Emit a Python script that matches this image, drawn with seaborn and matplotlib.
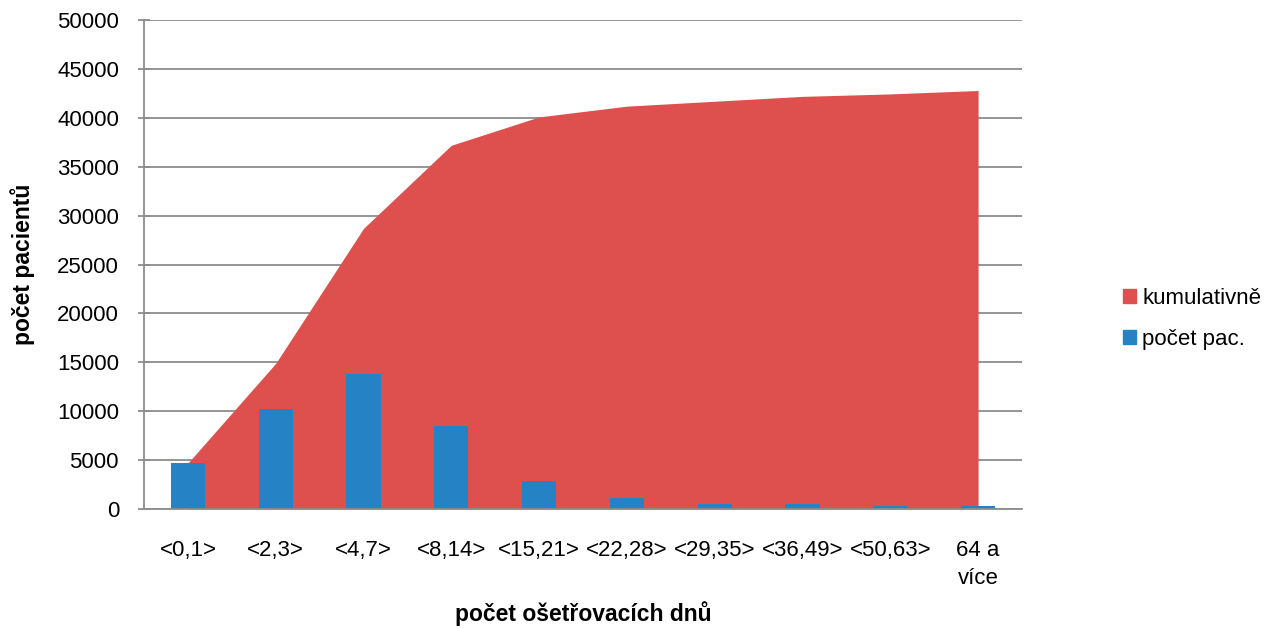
import numpy as np
import pandas as pd
import seaborn as sns
import matplotlib.pyplot as plt
from matplotlib.patches import Patch

# Data
categories = ["<0,1>", "<2,3>", "<4,7>", "<8,14>", "<15,21>", "<22,28>",
              "<29,35>", "<36,49>", "<50,63>", "64 a\nvíce"]
pocet_pac = [4700, 10200, 13800, 8500, 2900, 1150, 500, 500, 300, 300]
kumulativne = [4700, 14900, 28700, 37200, 40100, 41200, 41700, 42200, 42450, 42800]

red = "#DD504E"
blue = "#2582C4"
grid_grey = "#8C8C8C"

sns.set_theme(style="white")
plt.rcParams["font.family"] = ["Liberation Sans", "DejaVu Sans"]
plt.rcParams["text.color"] = "black"
plt.rcParams["axes.labelcolor"] = "black"

df = pd.DataFrame({"kategorie": categories, "pocet": pocet_pac})

fig = plt.figure(figsize=(12.77, 6.28), dpi=100)
ax = fig.add_axes([0.1128, 0.1895, 0.6875, 0.7785])

x = np.arange(len(categories))
ax.fill_between(x, 0, kumulativne, color=red, linewidth=0, zorder=2)
sns.barplot(data=df, x="kategorie", y="pocet", color=blue, width=0.39,
            saturation=1, linewidth=0, edgecolor="none", ax=ax, zorder=3)

ax.set_xlim(-0.5, len(categories) - 0.5)
ax.set_ylim(0, 50000)
ax.set_yticks(np.arange(0, 50001, 5000))
ax.yaxis.grid(True, color=grid_grey, linewidth=1.3, zorder=0)
ax.set_axisbelow(True)

for side in ["top", "right"]:
    ax.spines[side].set_visible(False)
for side in ["left", "bottom"]:
    ax.spines[side].set_color(grid_grey)
    ax.spines[side].set_linewidth(1.3)
    ax.spines[side].set_zorder(4)

ax.set_xticks(np.arange(-0.5, len(categories)), minor=True)
ax.tick_params(axis="x", which="major", length=0, labelsize=16, pad=22,
               colors="black")
for lbl in ax.get_xticklabels():
    lbl.set_linespacing(1.45)
ax.tick_params(axis="x", which="minor", direction="inout", length=12,
               width=1.3, color=grid_grey)
ax.tick_params(axis="y", which="major", direction="inout", length=8,
               width=1.3, color=grid_grey, labelsize=16, labelcolor="black",
               left=True, pad=14)

ax.set_xlabel("počet ošetřovacích dnů", fontsize=16.5, fontweight="bold",
              labelpad=9)
ax.set_ylabel("počet pacientů", fontsize=16.5, fontweight="bold", labelpad=16)

handles = [Patch(color=red, label="kumulativně"),
           Patch(color=blue, label="počet pac.")]
fig.legend(handles=handles, loc="center left", bbox_to_anchor=(0.8634, 0.492),
           frameon=False, fontsize=16, handlelength=0.59, handleheight=0.59,
           handletextpad=0.3, labelspacing=0.9)

fig.savefig("out.png", dpi=100)
